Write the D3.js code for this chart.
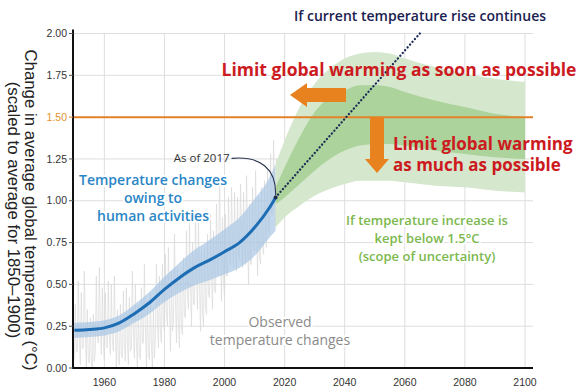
<!DOCTYPE html>
<html><head><meta charset="utf-8">
<script src="https://cdn.jsdelivr.net/npm/d3@7"></script>
<style>
html,body{margin:0;padding:0;background:#fff;}
svg{display:block;}
</style></head>
<body>
<svg id="chart" width="585" height="390"></svg>
<script>
// ---------- data ----------
const xTicks = [1960, 1980, 2000, 2020, 2040, 2060, 2080, 2100];
const yTicks = [0, 0.25, 0.5, 0.75, 1.0, 1.25, 1.5, 1.75, 2.0];

// human-induced warming (blue)
const humanYears = [1950,1955,1960,1965,1970,1975,1980,1985,1990,1995,2000,2005,2010,2015,2017];
const humanMid   = [0.225,0.23,0.24,0.27,0.325,0.39,0.47,0.54,0.60,0.645,0.695,0.75,0.84,0.96,1.02];
const humanLow   = [0.18,0.185,0.195,0.22,0.27,0.325,0.395,0.45,0.495,0.525,0.56,0.60,0.67,0.78,0.82];
const humanHigh  = [0.27,0.275,0.285,0.315,0.38,0.455,0.545,0.63,0.705,0.765,0.83,0.90,1.01,1.14,1.22];

// 1.5°C pathways (green)
const pathYears  = [2017,2020,2025,2030,2035,2040,2045,2050,2055,2060,2070,2080,2090,2100];
const outerHigh  = [1.22,1.36,1.56,1.70,1.79,1.85,1.88,1.89,1.88,1.85,1.80,1.76,1.73,1.71];
const outerLow   = [0.84,0.90,0.97,1.03,1.07,1.10,1.12,1.12,1.12,1.11,1.09,1.08,1.06,1.05];
const innerHigh  = [1.08,1.20,1.38,1.53,1.62,1.66,1.69,1.69,1.68,1.65,1.60,1.56,1.52,1.50];
const innerLow   = [0.98,1.02,1.10,1.18,1.25,1.30,1.33,1.34,1.34,1.33,1.30,1.28,1.26,1.25];

// current-trend extrapolation
const trendYears = [2017, 2065];
const trendVals  = [1.02, 2.0];

// observed (monthly spread) – yearly low/high
const obsYears = d3.range(1950, 2018);
const obsLow = [0.05,0.10,0.02,0.12,0.00,0.03,0.00,0.10,0.15,0.08,0.05,0.12,0.08,0.10,0.00,0.02,0.06,0.04,0.02,0.12,
  0.06,0.00,0.05,0.15,0.00,0.05,0.00,0.18,0.12,0.15,0.22,0.25,0.10,0.28,0.15,0.12,0.20,0.30,0.35,0.25,
  0.38,0.35,0.22,0.25,0.32,0.42,0.35,0.45,0.55,0.40,0.42,0.55,0.62,0.60,0.58,0.65,0.60,0.62,0.50,0.62,
  0.70,0.55,0.62,0.68,0.72,0.80,0.92,0.85];
const obsHigh = [0.38,0.52,0.45,0.58,0.35,0.30,0.32,0.55,0.60,0.48,0.45,0.52,0.50,0.55,0.35,0.38,0.46,0.48,0.42,0.58,
  0.50,0.38,0.48,0.62,0.40,0.45,0.36,0.62,0.55,0.62,0.68,0.72,0.58,0.80,0.60,0.58,0.66,0.82,0.88,0.75,
  0.92,0.88,0.70,0.72,0.80,0.92,0.82,0.98,1.15,0.90,0.92,1.02,1.08,1.05,1.02,1.10,1.05,1.15,0.98,1.08,
  1.18,1.02,1.08,1.12,1.18,1.28,1.36,1.25];

const limitLevel = 1.5;

// ---------- layout ----------
const svg = d3.select("#chart");
const x = d3.scaleLinear().domain([1950, 2100]).range([74.3, 525]);
const y = d3.scaleLinear().domain([0, 2]).range([368, 33.5]);
const xLeft = 73, xRight = 533;
const sansUI = "'Open Sans', 'Noto Sans', sans-serif";
const sansAx = "'Liberation Sans', Arial, sans-serif";

// grid
const grid = svg.append("g");
grid.selectAll("line.v").data(xTicks).join("line")
  .attr("x1", d => x(d)).attr("x2", d => x(d))
  .attr("y1", y(2)).attr("y2", y(0))
  .attr("stroke", "#dedede").attr("stroke-width", 1);
grid.selectAll("line.h").data(yTicks.filter(d => d > 0)).join("line")
  .attr("x1", xLeft).attr("x2", xRight)
  .attr("y1", d => y(d)).attr("y2", d => y(d))
  .attr("stroke", "#dedede").attr("stroke-width", 1);

// observed
const obsPts = [];
obsYears.forEach((yr, i) => {
  obsPts.push([yr, obsLow[i]]);
  obsPts.push([yr + 0.33, obsHigh[i]]);
  obsPts.push([yr + 0.66, (obsLow[i] + obsHigh[i]) / 2 - 0.12]);
});
svg.append("path")
  .attr("d", d3.line().x(d => x(d[0])).y(d => y(Math.max(0, d[1])))(obsPts))
  .attr("fill", "none").attr("stroke", "#dadada").attr("stroke-width", 0.7);

// blue band
const bandBlue = humanYears.map((yr, i) => ({yr, lo: humanLow[i], hi: humanHigh[i]}));
svg.append("path")
  .attr("d", d3.area().curve(d3.curveMonotoneX).x(d => x(d.yr)).y0(d => y(d.lo)).y1(d => y(d.hi))(bandBlue))
  .attr("fill", "#a3c1e3").attr("opacity", 0.65);

// green bands
const outer = pathYears.map((yr, i) => ({yr, lo: outerLow[i], hi: outerHigh[i]}));
const inner = pathYears.map((yr, i) => ({yr, lo: innerLow[i], hi: innerHigh[i]}));
const gArea = d3.area().curve(d3.curveMonotoneX).x(d => x(d.yr)).y0(d => y(d.lo)).y1(d => y(d.hi));
svg.append("path").attr("d", gArea(outer)).attr("fill", "#d5e7cd");
svg.append("path").attr("d", gArea(inner)).attr("fill", "#acd39b");

// 1.5 line
svg.append("line")
  .attr("x1", xLeft).attr("x2", xRight).attr("y1", y(limitLevel)).attr("y2", y(limitLevel))
  .attr("stroke", "#e3822a").attr("stroke-width", 2);

// human line
svg.append("path")
  .attr("d", d3.line().curve(d3.curveMonotoneX).x((d, i) => x(humanYears[i])).y(d => y(d))(humanMid))
  .attr("fill", "none").attr("stroke", "#1d6db4").attr("stroke-width", 3);

// dotted trend
svg.append("path")
  .attr("d", d3.line().x((d, i) => x(trendYears[i])).y(d => y(d))(trendVals))
  .attr("fill", "none").attr("stroke", "#1c2a55").attr("stroke-width", 2.3)
  .attr("stroke-linecap", "round").attr("stroke-dasharray", "0.1 3.6");

// point & annotation
const px = x(2017), py = y(1.02);
svg.append("circle").attr("cx", px).attr("cy", py).attr("r", 2).attr("fill", "#1c2a55");
svg.append("path")
  .attr("d", `M${px - 44},${py - 39} C${px - 15},${py - 42} ${px + 1},${py - 28} ${px},${py - 2}`)
  .attr("fill", "none").attr("stroke", "#2a3450").attr("stroke-width", 1.1);
svg.append("text").attr("x", px - 46).attr("y", py - 35)
  .attr("text-anchor", "end").attr("font-family", sansUI).attr("font-size", 11.5)
  .attr("fill", "#333").text("As of 2017");

// axes
svg.append("line").attr("x1", xLeft).attr("x2", xLeft).attr("y1", y(2) - 4).attr("y2", y(0) + 1)
  .attr("stroke", "#111").attr("stroke-width", 2);
svg.append("line").attr("x1", xLeft - 1).attr("x2", xRight).attr("y1", y(0)).attr("y2", y(0))
  .attr("stroke", "#111").attr("stroke-width", 2);

const yAx = svg.append("g");
yAx.selectAll("line").data(yTicks).join("line")
  .attr("x1", xLeft - 4).attr("x2", xLeft).attr("y1", d => y(d)).attr("y2", d => y(d))
  .attr("stroke", d => d === limitLevel ? "#e3822a" : "#555").attr("stroke-width", 1);
yAx.selectAll("text").data(yTicks).join("text")
  .attr("x", xLeft - 6).attr("y", d => y(d)).attr("dy", "0.35em")
  .attr("text-anchor", "end").attr("font-family", sansAx).attr("font-size", 10.5)
  .attr("fill", d => d === limitLevel ? "#e3922e" : "#333")
  .text(d => d3.format(".2f")(d));

svg.append("g").selectAll("text").data(xTicks).join("text")
  .attr("x", d => x(d)).attr("y", 386)
  .attr("text-anchor", "middle").attr("font-family", sansAx).attr("font-size", 10.5)
  .attr("fill", "#333").text(d => d);

// y title
const yt = svg.append("text").attr("transform", "translate(31,210) rotate(90)")
  .attr("text-anchor", "middle").attr("font-family", sansAx).attr("font-size", 16.8).attr("fill", "#222");
yt.append("tspan").attr("x", 0).attr("dy", "0.35em").text("Change in average global temperature (°C)");
yt.append("tspan").attr("x", 0).attr("dy", "17.5px").text("(scaled to average for 1850–1900)");

// arrows (orange)
const orange = "#e8821e";
svg.append("path")
  .attr("d", `M290,95 L307,83 L307,88 L346,88 L346,102 L307,102 L307,107 Z`)
  .attr("fill", orange);
svg.append("path")
  .attr("d", `M370,${y(limitLevel)} L384,${y(limitLevel)} L384,159 L389,159 L377,173 L365,159 L370,159 Z`)
  .attr("fill", orange);

// texts
function label(lines, cx, cy, opts) {
  const t = svg.append("text").attr("x", cx).attr("y", cy)
    .attr("text-anchor", opts.anchor || "middle")
    .attr("font-family", sansUI).attr("font-size", opts.size)
    .attr("font-weight", opts.weight || 400).attr("fill", opts.color);
  if (opts.halo) t.attr("stroke", "#fff").attr("stroke-width", 4).attr("paint-order", "stroke").attr("stroke-linejoin", "round");
  lines.forEach((l, i) => t.append("tspan").attr("x", cx).attr("dy", i === 0 ? "0.35em" : opts.lh).text(l));
}
label(["If current temperature rise continues"], 420, 16, {size: 14, weight: 600, color: "#1b2150"});
label(["Limit global warming as soon as possible"], 399, 70, {size: 17.5, weight: 700, color: "#cc1a1f"});
label(["Limit global warming"], 393, 144, {size: 17, weight: 700, color: "#cc1a1f", anchor: "start"});
label(["as much as possible"], 393, 165, {size: 17, weight: 700, color: "#cc1a1f", anchor: "start"});
label(["Temperature changes", "owing to", "human activities"], 153, 180, {size: 14, weight: 600, color: "#2a86c6", lh: "18px", halo: true});
label(["Observed", "temperature changes"], 280, 322, {size: 14, weight: 400, color: "#8a8a8a", lh: "18px", halo: true});
label(["If temperature increase is", "kept below 1.5°C", "(scope of uncertainty)"], 427, 220, {size: 13, weight: 600, color: "#7cb84e", lh: "18px", halo: true});
</script>
</body></html>
